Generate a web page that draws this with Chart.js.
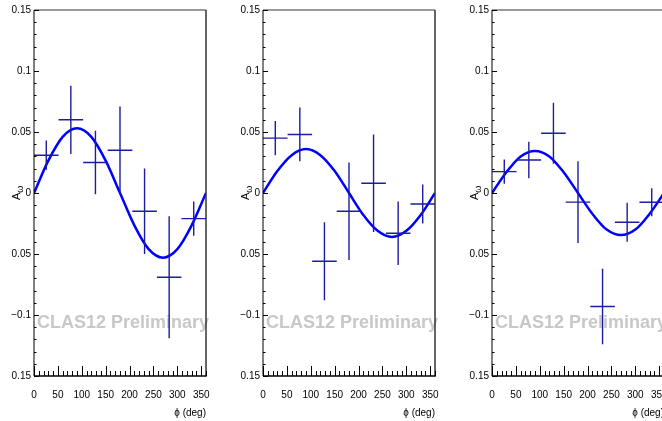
<!DOCTYPE html>
<html><head><meta charset="utf-8">
<script src="https://cdn.jsdelivr.net/npm/chart.js@4.4.1/dist/chart.umd.min.js"></script>
<style>
html,body{margin:0;padding:0;background:#fff;overflow:hidden;width:662px;height:421px;position:relative}
canvas{position:absolute;top:0}
</style></head>
<body>
<canvas id="c0" width="229" height="421" style="left:0px"></canvas>
<canvas id="c1" width="229" height="421" style="left:229px"></canvas>
<canvas id="c2" width="229" height="421" style="left:458px"></canvas>
<script>
// ---- data ----
const phiCenters   = [25.7, 77.1, 128.6, 180.0, 231.4, 282.9, 334.3];
const phiHalfWidth = [25.7, 25.7, 25.7, 25.7, 25.7, 25.7, 25.7];

const panel1Values = [0.031, 0.060, 0.025, 0.035, -0.015, -0.069, -0.021];
const panel1Errors = [0.012, 0.028, 0.026, 0.036, 0.035, 0.050, 0.014];
const panel2Values = [0.045, 0.048, -0.056, -0.015, 0.008, -0.033, -0.009];
const panel2Errors = [0.014, 0.022, 0.032, 0.040, 0.040, 0.026, 0.016];
const panel3Values = [0.0175, 0.027, 0.049, -0.0075, -0.093, -0.024, -0.0076];
const panel3Errors = [0.010, 0.015, 0.025, 0.0335, 0.031, 0.016, 0.0115];

const fitPhi    = [0, 30, 60, 90, 120, 150, 180, 210, 240, 270, 300, 330, 360];
const fitPanel1 = [0, 0.0265, 0.046, 0.053, 0.046, 0.0265, 0, -0.0265, -0.046, -0.053, -0.046, -0.0265, 0];
const fitPanel2 = [0, 0.018, 0.031, 0.036, 0.031, 0.018, 0, -0.018, -0.031, -0.036, -0.031, -0.018, 0];
const fitPanel3 = [0, 0.017, 0.030, 0.0345, 0.030, 0.017, 0, -0.017, -0.030, -0.0345, -0.030, -0.017, 0];

const xTickValues = [0, 50, 100, 150, 200, 250, 300, 350];
const yTickValues = [-0.15, -0.1, -0.05, 0, 0.05, 0.1, 0.15];
const yTickLabels = ['0.15', '\u22120.1', '0.05', '0', '0.05', '0.1', '0.15'];
const xMinorStep = 10;
const yMinorStep = 0.01;
const watermarkText = 'CLAS12 Preliminary';
const xTitle = '\u03d5 (deg)';

const FONT = "'Liberation Sans', Arial, sans-serif";
const MARK = '#1c1ca0';

const panels = [
  {vals: panel1Values, errs: panel1Errors, fit: fitPanel1},
  {vals: panel2Values, errs: panel2Errors, fit: fitPanel2},
  {vals: panel3Values, errs: panel3Errors, fit: fitPanel3},
];

const decor = {
  id: 'decor',
  beforeDatasetsDraw(chart) {
    const {ctx, chartArea: a} = chart;
    ctx.save();
    ctx.font = 'bold 18px ' + FONT;
    ctx.fillStyle = '#c8c8c8';
    ctx.textAlign = 'left';
    ctx.textBaseline = 'middle';
    ctx.fillText(watermarkText, a.left + 3, 323);
    ctx.restore();
  },
  afterDatasetsDraw(chart) {
    const {ctx} = chart;
    const xs = chart.scales.x, ys = chart.scales.y;
    const p = chart.config.options.plugins.decor;
    ctx.save();
    ctx.strokeStyle = MARK;
    ctx.lineWidth = 1.4;
    ctx.beginPath();
    p.vals.forEach((v, i) => {
      const xc = xs.getPixelForValue(phiCenters[i]);
      const x0 = xs.getPixelForValue(phiCenters[i] - phiHalfWidth[i]);
      const x1 = xs.getPixelForValue(phiCenters[i] + phiHalfWidth[i]);
      const yc = ys.getPixelForValue(v);
      const y0 = ys.getPixelForValue(v - p.errs[i]);
      const y1 = ys.getPixelForValue(v + p.errs[i]);
      ctx.moveTo(x0, yc); ctx.lineTo(x1, yc);
      ctx.moveTo(xc, y0); ctx.lineTo(xc, y1);
    });
    ctx.stroke();
    ctx.restore();
  },
  afterDraw(chart) {
    const {ctx, chartArea: a} = chart;
    const xs = chart.scales.x, ys = chart.scales.y;
    ctx.save();
    // frame
    ctx.strokeStyle = '#777';
    ctx.lineWidth = 1.5;
    ctx.beginPath(); ctx.moveTo(a.left, a.top); ctx.lineTo(a.right, a.top); ctx.stroke();
    ctx.strokeStyle = '#333';
    ctx.beginPath(); ctx.moveTo(a.right, a.top); ctx.lineTo(a.right, a.bottom); ctx.stroke();
    ctx.strokeStyle = '#000';
    ctx.lineWidth = 1.5;
    ctx.beginPath(); ctx.moveTo(a.left, a.bottom); ctx.lineTo(a.right + 0.75, a.bottom); ctx.stroke();
    ctx.lineWidth = 1;
    ctx.beginPath(); ctx.moveTo(a.left, a.top); ctx.lineTo(a.left, a.bottom); ctx.stroke();
    // inner ticks
    ctx.beginPath();
    for (let k = 0; k <= 30; k++) {
      const v = -0.15 + k * yMinorStep;
      const y = Math.round(ys.getPixelForValue(v)) + 0.5;
      const len = (k % 5 === 0) ? 5 : 2.5;
      ctx.moveTo(a.left, y); ctx.lineTo(a.left + len, y);
    }
    for (let k = 0; k <= 36; k++) {
      const v = k * xMinorStep;
      const x = Math.round(xs.getPixelForValue(v)) + 0.5;
      const len = (k % 5 === 0) ? 10 : 5;
      ctx.moveTo(x, a.bottom); ctx.lineTo(x, a.bottom - len);
    }
    ctx.stroke();
    // x title
    ctx.fillStyle = '#000';
    ctx.font = '10px ' + FONT;
    ctx.textAlign = 'right';
    ctx.textBaseline = 'middle';
    ctx.fillText(xTitle, a.right, 413);
    // y title A_omega (rotated)
    ctx.translate(17, 195);
    ctx.rotate(-Math.PI / 2);
    ctx.textAlign = 'left';
    ctx.textBaseline = 'middle';
    ctx.font = '11px ' + FONT;
    ctx.fillText('A', -5, 0);
    const w = ctx.measureText('A').width;
    ctx.font = '9px ' + FONT;
    ctx.fillText('\u03c9', -5 + w, 4);
    ctx.restore();
  }
};

panels.forEach((pn, idx) => {
  new Chart(document.getElementById('c' + idx), {
    type: 'scatter',
    data: {
      datasets: [{
        type: 'line',
        data: fitPhi.map((x, i) => ({x, y: pn.fit[i]})),
        borderColor: '#0000ff',
        borderWidth: 2.5,
        pointRadius: 0,
        fill: false,
        cubicInterpolationMode: 'monotone',
      }]
    },
    options: {
      responsive: false,
      animation: false,
      devicePixelRatio: 1,
      layout: {padding: {top: 10, right: 23, left: 0, bottom: 0}},
      plugins: {legend: {display: false}, tooltip: {enabled: false},
                decor: {vals: pn.vals, errs: pn.errs}},
      scales: {
        x: {
          type: 'linear', min: 0, max: 360,
          afterBuildTicks: s => { s.ticks = xTickValues.map(v => ({value: v})); },
          afterFit: s => { s.height = 45; },
          ticks: {autoSkip: false, maxRotation: 0, padding: 13, color: '#000',
                  font: {size: 10, family: FONT}, callback: v => String(v)},
          grid: {display: false, drawTicks: false},
          border: {display: false}
        },
        y: {
          type: 'linear', min: -0.15, max: 0.15,
          afterBuildTicks: s => { s.ticks = yTickValues.map(v => ({value: v})); },
          afterFit: s => { s.width = 34; },
          ticks: {autoSkip: false, padding: 3, color: '#000',
                  font: {size: 10, family: FONT}, callback: (v, i) => yTickLabels[i]},
          grid: {display: false, drawTicks: false},
          border: {display: false}
        }
      }
    },
    plugins: [decor]
  });
});
</script>
</body></html>
